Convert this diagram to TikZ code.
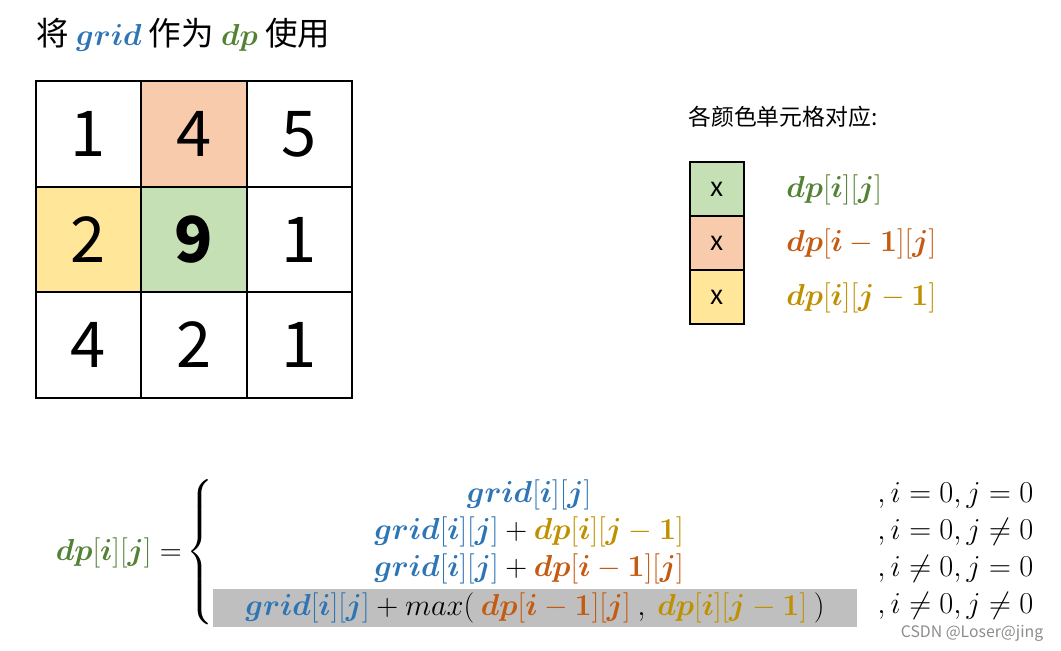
\documentclass[tikz,border=0pt]{standalone}
\usepackage[no-math]{fontspec}
\setmainfont{Noto Sans CJK SC}
\usepackage{amsmath,bm}
\usetikzlibrary{positioning}
\definecolor{gridblue}{HTML}{2E75B6}
\definecolor{dpgreen}{HTML}{548235}
\definecolor{dporange}{HTML}{C55A11}
\definecolor{dpgold}{HTML}{BF9000}
\definecolor{cellgreen}{HTML}{C5E0B4}
\definecolor{cellorange}{HTML}{F8CBAD}
\definecolor{cellyellow}{HTML}{FFE699}
\definecolor{hlgray}{HTML}{BFBFBF}
\newcommand{\gridij}{{\color{gridblue}\bm{grid}[\bm{i}][\bm{j}]}}
\newcommand{\dpij}{{\color{dpgreen}\bm{dp}[\bm{i}][\bm{j}]}}
\newcommand{\dpim}{{\color{dporange}\bm{dp}[\bm{i}-\bm{1}][\bm{j}]}}
\newcommand{\dpjm}{{\color{dpgold}\bm{dp}[\bm{i}][\bm{j}-\bm{1}]}}
\tikzset{
  gcell/.style={draw=black, line width=1.1pt, minimum size=2.11cm, inner sep=0pt,
    font=\fontsize{36}{40}\selectfont},
  lgbox/.style={draw=black, line width=1.1pt, minimum size=1.08cm, inner sep=0pt,
    font=\fontsize{15}{18}\selectfont},
  lglabel/.style={anchor=west, inner sep=0pt, font=\fontsize{18.3}{21}\selectfont},
  eqrow/.style={inner sep=0pt, font=\fontsize{17}{20}\selectfont},
  eqcond/.style={anchor=west, inner sep=0pt, font=\fontsize{17}{20}\selectfont}
}
\begin{document}
\begin{tikzpicture}[x=0.02cm, y=-0.02cm]
  \useasboundingbox (0,0) rectangle (1061,651);
  % title
  \node[anchor=west, inner sep=0pt, font=\fontsize{18.5}{22}\selectfont] (title) at (36,35)
    {将 $\color{gridblue}\bm{grid}$ 作为 $\color{dpgreen}\bm{dp}$ 使用};
  % grid
  \node[gcell] (c11) at (88.5,134) {1};
  \node[gcell, fill=cellorange] (c12) at (194,134) {4};
  \node[gcell] (c13) at (299.5,134) {5};
  \node[gcell, fill=cellyellow] (c21) at (88.5,239.5) {2};
  \node[gcell, fill=cellgreen] (c22) at (194,239.5) {\bfseries 9};
  \node[gcell] (c23) at (299.5,239.5) {1};
  \node[gcell] (c31) at (88.5,345) {4};
  \node[gcell] (c32) at (194,345) {2};
  \node[gcell] (c33) at (299.5,345) {1};
  % legend
  \node[anchor=west, inner sep=0pt, font=\fontsize{13}{16}\selectfont] (lgtitle) at (688,117) {各颜色单元格对应:};
  \node[lgbox, fill=cellgreen] (lg1) at (717,189) {x};
  \node[lgbox, fill=cellorange] (lg2) at (717,243) {x};
  \node[lgbox, fill=cellyellow] (lg3) at (717,297) {x};
  \node[lglabel] (lt1) at (786,190) {$\dpij$};
  \node[lglabel] (lt2) at (786,244) {$\dpim$};
  \node[lglabel] (lt3) at (786,298) {$\dpjm$};
  % recurrence
  \node[eqrow, anchor=east] (lhs) at (182,553) {$\dpij =$};
  \node[eqrow] (brace) at (201,553) {$\left\{\rule[-1.35cm]{0pt}{2.7cm}\right.$};
  \node[eqrow] (r1) at (529,495) {$\gridij$};
  \node[eqrow] (r2) at (529,532) {$\gridij + \dpjm$};
  \node[eqrow] (r3) at (529,569) {$\gridij + \dpim$};
  \node[eqrow, fill=hlgray, minimum width=12.88cm, minimum height=0.76cm] (r4) at (535,608)
    {$\gridij + max(\ \dpim\ ,\ \dpjm\ )$};
  \node[eqcond] (k1) at (877,495) {$,i=0, j=0$};
  \node[eqcond] (k2) at (877,532) {$,i=0, j\neq 0$};
  \node[eqcond] (k3) at (877,569) {$,i\neq 0, j=0$};
  \node[eqcond] (k4) at (877,606) {$,i\neq 0, j\neq 0$};
  % watermark
  \node[text=black!45, inner sep=0pt, font=\fontsize{9}{11}\selectfont] (mark) at (972,633) {CSDN @Loser@jing};
\end{tikzpicture}
\end{document}
